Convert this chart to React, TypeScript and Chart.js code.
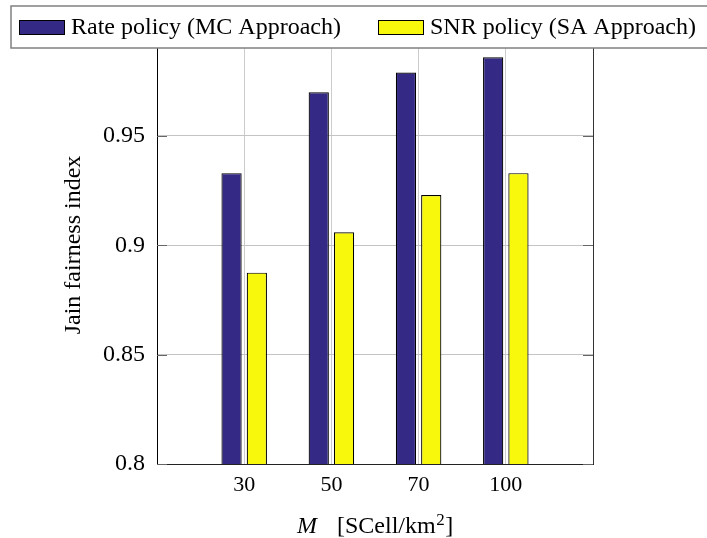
import React, { useEffect, useRef } from 'react';
import { Chart, registerables } from 'chart.js';

Chart.register(...registerables);

// values
const categories = ['30', '50', '70', '100'];
const rateValues = [0.933, 0.970, 0.979, 0.986];
const snrValues = [0.8875, 0.906, 0.923, 0.933];
const yTicks = [0.8, 0.85, 0.9, 0.95, 1.0];
const seriesNames = ['Rate policy (MC Approach)', 'SNR policy (SA Approach)'];

const SERIF = '"Liberation Serif", "Times New Roman", serif';

// empty slot on each side, like pgfplots' enlarged x limits
const xLabels = ['', ...categories, ''];
const pad = (vals: number[]) => [null, ...vals, null];

const overlayPlugin = {
    id: 'overlay',
    afterDraw(chart: any) {
        const { ctx, chartArea: a, scales } = chart;
        ctx.save();

        // right frame
        ctx.strokeStyle = '#333';
        ctx.lineWidth = 1;
        ctx.beginPath();
        ctx.moveTo(a.right + 0.5, a.top);
        ctx.lineTo(a.right + 0.5, a.bottom);
        ctx.stroke();

        // inward tick marks on both sides
        ctx.strokeStyle = '#666';
        scales.y.ticks.forEach((t: any) => {
            const py = Math.round(scales.y.getPixelForValue(t.value)) + 0.5;
            ctx.beginPath();
            ctx.moveTo(a.left, py);
            ctx.lineTo(a.left + 10, py);
            ctx.moveTo(a.right - 10, py);
            ctx.lineTo(a.right, py);
            ctx.stroke();
        });

        // legend box over the top of the plot (right edge runs off the page)
        ctx.fillStyle = '#fff';
        ctx.fillRect(11, 6, 700, 42);
        ctx.strokeStyle = '#808080';
        ctx.lineWidth = 1.5;
        ctx.strokeRect(11, 6, 700, 42);

        const ds = chart.data.datasets;
        const entries = [
            { sx: 19, tx: 71 },
            { sx: 378, tx: 430 },
        ];
        ctx.font = `24px ${SERIF}`;
        ctx.textBaseline = 'alphabetic';
        ctx.textAlign = 'left';
        entries.forEach((e, i) => {
            ctx.fillStyle = ds[i].backgroundColor;
            ctx.fillRect(e.sx, 20, 45, 14);
            ctx.strokeStyle = '#000';
            ctx.lineWidth = 1;
            ctx.strokeRect(e.sx + 0.5, 20.5, 45, 14);
            ctx.fillStyle = '#000';
            ctx.fillText(ds[i].label, e.tx, 34);
        });

        // y title
        ctx.save();
        ctx.translate(80, 245);
        ctx.rotate(-Math.PI / 2);
        ctx.textAlign = 'center';
        ctx.fillStyle = '#000';
        ctx.font = `24px ${SERIF}`;
        ctx.fillText('Jain fairness index', 0, 0);
        ctx.restore();

        // x title: M  [SCell/km^2]
        ctx.fillStyle = '#000';
        ctx.textAlign = 'left';
        ctx.font = `italic 24px ${SERIF}`;
        ctx.fillText('M', 297, 533);
        ctx.font = `24px ${SERIF}`;
        const unit = '[SCell/km';
        ctx.fillText(unit, 337, 533);
        let x = 337 + ctx.measureText(unit).width + 0.5;
        ctx.font = `17px ${SERIF}`;
        ctx.fillText('2', x, 525);
        x += ctx.measureText('2').width + 0.5;
        ctx.font = `24px ${SERIF}`;
        ctx.fillText(']', x, 533);

        ctx.restore();
    },
};

const App: React.FC = () => {
    const canvasRef = useRef<HTMLCanvasElement>(null);
    const chartRef = useRef<Chart | null>(null);

    useEffect(() => {
        if (!canvasRef.current) return;
        if (chartRef.current) chartRef.current.destroy();

        chartRef.current = new Chart(canvasRef.current, {
            type: 'bar',
            data: {
                labels: xLabels,
                datasets: [
                    {
                        label: seriesNames[0],
                        data: pad(rateValues),
                        backgroundColor: '#342a86',
                        borderColor: '#000',
                        borderWidth: 1.2,
                        categoryPercentage: 0.58,
                        barPercentage: 0.8,
                    },
                    {
                        label: seriesNames[1],
                        data: pad(snrValues),
                        backgroundColor: '#f8f80c',
                        borderColor: '#000',
                        borderWidth: 1.2,
                        categoryPercentage: 0.58,
                        barPercentage: 0.8,
                    },
                ],
            },
            options: {
                responsive: true,
                maintainAspectRatio: false,
                animation: false,
                layout: { padding: { top: 26.6, right: 114, left: 0, bottom: 0 } },
                plugins: {
                    legend: { display: false },
                    tooltip: { enabled: false },
                },
                scales: {
                    x: {
                        offset: false,
                        grid: { offset: false, color: '#cccccc', drawTicks: false },
                        border: { color: '#222', width: 1 },
                        ticks: {
                            color: '#000',
                            font: { family: SERIF, size: 22 },
                            padding: 8,
                            autoSkip: false,
                            maxRotation: 0,
                        },
                        afterFit: (s: any) => { s.height = 74; },
                    },
                    y: {
                        min: 0.8,
                        max: 1.0,
                        grid: { color: '#c4c4c4', drawTicks: false },
                        border: { color: '#000', width: 1 },
                        ticks: {
                            color: '#000',
                            font: { family: SERIF, size: 24 },
                            padding: 12,
                            callback: (v: any) => String(Number(v)),
                        },
                        afterBuildTicks: (s: any) => { s.ticks = yTicks.map((v) => ({ value: v })); },
                        afterFit: (s: any) => { s.width = 157; },
                    },
                },
            },
            plugins: [overlayPlugin],
        });

        return () => {
            if (chartRef.current) {
                chartRef.current.destroy();
                chartRef.current = null;
            }
        };
    }, []);

    return (
        <div style={{ position: 'absolute', left: 0, top: 0, width: 707, height: 538, background: '#fff' }}>
            <canvas ref={canvasRef}></canvas>
        </div>
    );
};

export default App;
